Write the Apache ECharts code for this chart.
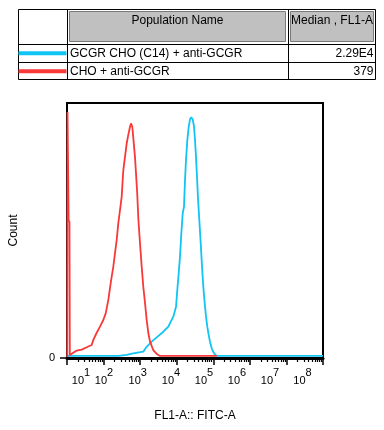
<!DOCTYPE html>
<html>
<head>
<meta charset="utf-8">
<script src="https://cdn.jsdelivr.net/npm/echarts@6/dist/echarts.min.js"></script>
<style>
html,body{margin:0;padding:0;background:#fff;}
#chart{width:384px;height:430px;}
</style>
</head>
<body>
<div id="chart"></div>
<script>
// ---- data (x in decades of FL1-A, y in relative count, % of plot height) ----
const populationNames = ['GCGR CHO (C14) + anti-GCGR', 'CHO + anti-GCGR'];
const medianLabels = ['2.29E4', '379'];
const tableHeaders = ['Population Name', 'Median , FL1-A'];
const xTickExponents = [1, 2, 3, 4, 5, 6, 7, 8];
const yTickValues = [0];

const blueX = [1.000, 2.403, 2.449, 2.632, 2.813, 3.086, 3.179, 3.316, 3.453, 3.633, 3.770, 3.907, 3.981, 4.016, 4.054, 4.090, 4.126, 4.164, 4.199, 4.227, 4.254, 4.290, 4.328, 4.363, 4.399, 4.437, 4.473, 4.500, 4.527, 4.555, 4.582, 4.618, 4.656, 4.692, 4.727, 4.765, 4.801, 4.836, 4.875, 4.910, 4.957, 5.020, 5.094, 8.000];
const blueY = [0.8, 0.8, 0.8, 1.2, 1.8, 2.5, 4.4, 6.4, 8.1, 10.3, 12.3, 16.2, 20.1, 26.7, 33.2, 39.7, 48.9, 56.7, 59.3, 69.8, 77.6, 85.5, 90.7, 93.6, 94.4, 93.6, 90.7, 85.5, 78.9, 71.1, 62.7, 54.1, 45.0, 35.8, 28.0, 21.5, 16.2, 12.3, 9.0, 6.4, 3.8, 1.8, 0.8, 0.8];

const redX = [1.008, 1.014, 1.036, 1.044, 1.068, 1.077, 1.096, 1.129, 1.265, 1.402, 1.539, 1.675, 1.719, 1.812, 1.902, 1.993, 2.058, 2.129, 2.176, 2.222, 2.266, 2.313, 2.359, 2.403, 2.449, 2.496, 2.523, 2.540, 2.586, 2.632, 2.676, 2.723, 2.750, 2.786, 2.813, 2.859, 2.887, 2.922, 2.950, 2.977, 3.015, 3.043, 3.086, 3.133, 3.179, 3.223, 3.270, 3.360, 3.453, 3.543, 5.094];
const redY = [0.4, 96.5, 96.5, 54.1, 53.3, 1.2, 1.0, 1.6, 2.9, 3.3, 4.2, 5.1, 7.1, 9.9, 12.3, 14.9, 17.5, 22.7, 27.5, 31.9, 35.8, 41.1, 46.3, 52.9, 58.0, 63.3, 69.8, 73.7, 78.9, 84.2, 87.5, 90.7, 92.0, 90.7, 86.2, 78.9, 72.4, 63.9, 54.9, 49.0, 41.2, 35.8, 28.0, 21.6, 14.9, 9.8, 6.4, 3.1, 1.6, 0.8, 0.8];

// ---- styles ----
const seriesColors = ['#10c4f4', '#f93838'];
const FONT = 'Liberation Sans, Arial, sans-serif';
// where the original software printed each decade label (in axis units; it drifts from the ticks)
const labelPlacement = [1.383, 2.012, 2.933, 3.844, 4.746, 5.649, 6.551, 7.440];

const minorTicks = [];
xTickExponents.slice(0, -1).forEach(function (d) {
  for (let k = 2; k <= 9; k++) minorTicks.push(d + Math.log10(k));
});

function pairs(xs, ys) { return xs.map(function (x, i) { return [x, ys[i]]; }); }

// ---- table graphic ----
const T = { left: 18.5, top: 9.5, right: 375.5, bottom: 79.5, col1: 67.5, col2: 288.5, row1: 44, row2: 62 };
const graphics = [
  { type: 'rect', shape: { x: T.left, y: T.top, width: T.right - T.left, height: T.bottom - T.top }, style: { fill: '#fff', stroke: '#000', lineWidth: 1 } },
  { type: 'rect', shape: { x: 69.5, y: 11.5, width: 216, height: 30 }, style: { fill: '#c0c0c0', stroke: '#7a7a7a', lineWidth: 1 } },
  { type: 'rect', shape: { x: 290.5, y: 11.5, width: 83, height: 30 }, style: { fill: '#c0c0c0', stroke: '#7a7a7a', lineWidth: 1 } },
  { type: 'line', shape: { x1: T.col1, y1: T.top, x2: T.col1, y2: T.bottom }, style: { stroke: '#000', lineWidth: 1 } },
  { type: 'line', shape: { x1: T.col2, y1: T.top, x2: T.col2, y2: T.bottom }, style: { stroke: '#000', lineWidth: 1 } },
  { type: 'line', shape: { x1: T.left, y1: T.row1 + 0.5, x2: T.right, y2: T.row1 + 0.5 }, style: { stroke: '#000', lineWidth: 1 } },
  { type: 'line', shape: { x1: T.left, y1: T.row2 + 0.5, x2: T.right, y2: T.row2 + 0.5 }, style: { stroke: '#000', lineWidth: 1 } },
  { type: 'text', x: 177.5, y: 20.5, style: { text: tableHeaders[0], font: '12px ' + FONT, fill: '#000', align: 'center', verticalAlign: 'middle' } },
  { type: 'text', x: 332, y: 20.5, style: { text: tableHeaders[1], font: '12px ' + FONT, fill: '#000', align: 'center', verticalAlign: 'middle' } }
];
const rowY = [53.3, 71.2];
populationNames.forEach(function (name, i) {
  graphics.push({ type: 'line', shape: { x1: T.left, y1: rowY[i], x2: 66.5, y2: rowY[i] }, style: { stroke: seriesColors[i], lineWidth: 4 } });
  graphics.push({ type: 'text', x: 70, y: rowY[i], style: { text: name, font: '12px ' + FONT, fill: '#000', align: 'left', verticalAlign: 'middle' } });
  graphics.push({ type: 'text', x: 373.5, y: rowY[i], style: { text: medianLabels[i], font: '12px ' + FONT, fill: '#000', align: 'right', verticalAlign: 'middle' } });
});

const chart = echarts.init(document.getElementById('chart'), null, { renderer: 'canvas' });
chart.setOption({
  animation: false,
  backgroundColor: '#fff',
  grid: { left: 67, top: 103, width: 256, height: 255, show: true, borderColor: '#000', borderWidth: 2, backgroundColor: 'transparent' },
  graphic: graphics,
  xAxis: [
    {
      type: 'value', min: 1, max: 8, position: 'bottom',
      name: 'FL1-A:: FITC-A', nameLocation: 'middle', nameGap: 52,
      nameTextStyle: { fontSize: 12, fontFamily: FONT, color: '#000' },
      axisLine: { show: true, lineStyle: { color: '#000', width: 3 } },
      axisTick: { show: true, customValues: xTickExponents, length: 7, lineStyle: { color: '#000', width: 1.5 } },
      axisLabel: { show: false },
      splitLine: { show: false }
    },
    {
      type: 'value', min: 1, max: 8, position: 'bottom', gridIndex: 0,
      axisLine: { show: false },
      axisTick: { show: true, customValues: minorTicks, length: 4, lineStyle: { color: '#000', width: 1.2 } },
      axisLabel: { show: false },
      splitLine: { show: false }
    },
    {
      type: 'value', min: 1, max: 8, position: 'bottom', gridIndex: 0,
      axisLine: { show: false },
      axisTick: { show: false },
      axisLabel: {
        show: true, customValues: labelPlacement, margin: 9, showMinLabel: true, showMaxLabel: true,
        formatter: function (v) {
          let i = 0, best = Infinity;
          labelPlacement.forEach(function (p, k) { const d = Math.abs(p - v); if (d < best) { best = d; i = k; } });
          return '{b|10}{s|' + xTickExponents[i] + '}';
        },
        rich: {
          b: { fontSize: 11, fontFamily: FONT, color: '#000' },
          s: { fontSize: 11, fontFamily: FONT, color: '#000', padding: [0, 0, 16, 0] }
        }
      },
      splitLine: { show: false }
    }
  ],
  yAxis: {
    type: 'value', min: 0, max: 100,
    name: 'Count', nameLocation: 'middle', nameGap: 47, nameRotate: 90,
    nameTextStyle: { fontSize: 12, fontFamily: FONT, color: '#000' },
    axisLine: { show: true, lineStyle: { color: '#000', width: 2 } },
    axisTick: { show: true, customValues: yTickValues, length: 7, lineStyle: { color: '#000', width: 1.5 } },
    axisLabel: { show: true, customValues: yTickValues, margin: 12, fontSize: 11, fontFamily: FONT, color: '#000', padding: [0, 0, 4, 0] },
    splitLine: { show: false }
  },
  series: [
    { name: populationNames[0], type: 'line', xAxisIndex: 0, data: pairs(blueX, blueY), showSymbol: false, lineStyle: { color: seriesColors[0], width: 1.8 }, z: 3 },
    { name: populationNames[1], type: 'line', xAxisIndex: 0, data: pairs(redX, redY), showSymbol: false, lineStyle: { color: seriesColors[1], width: 1.8 }, z: 4 }
  ]
});
</script>
</body>
</html>
